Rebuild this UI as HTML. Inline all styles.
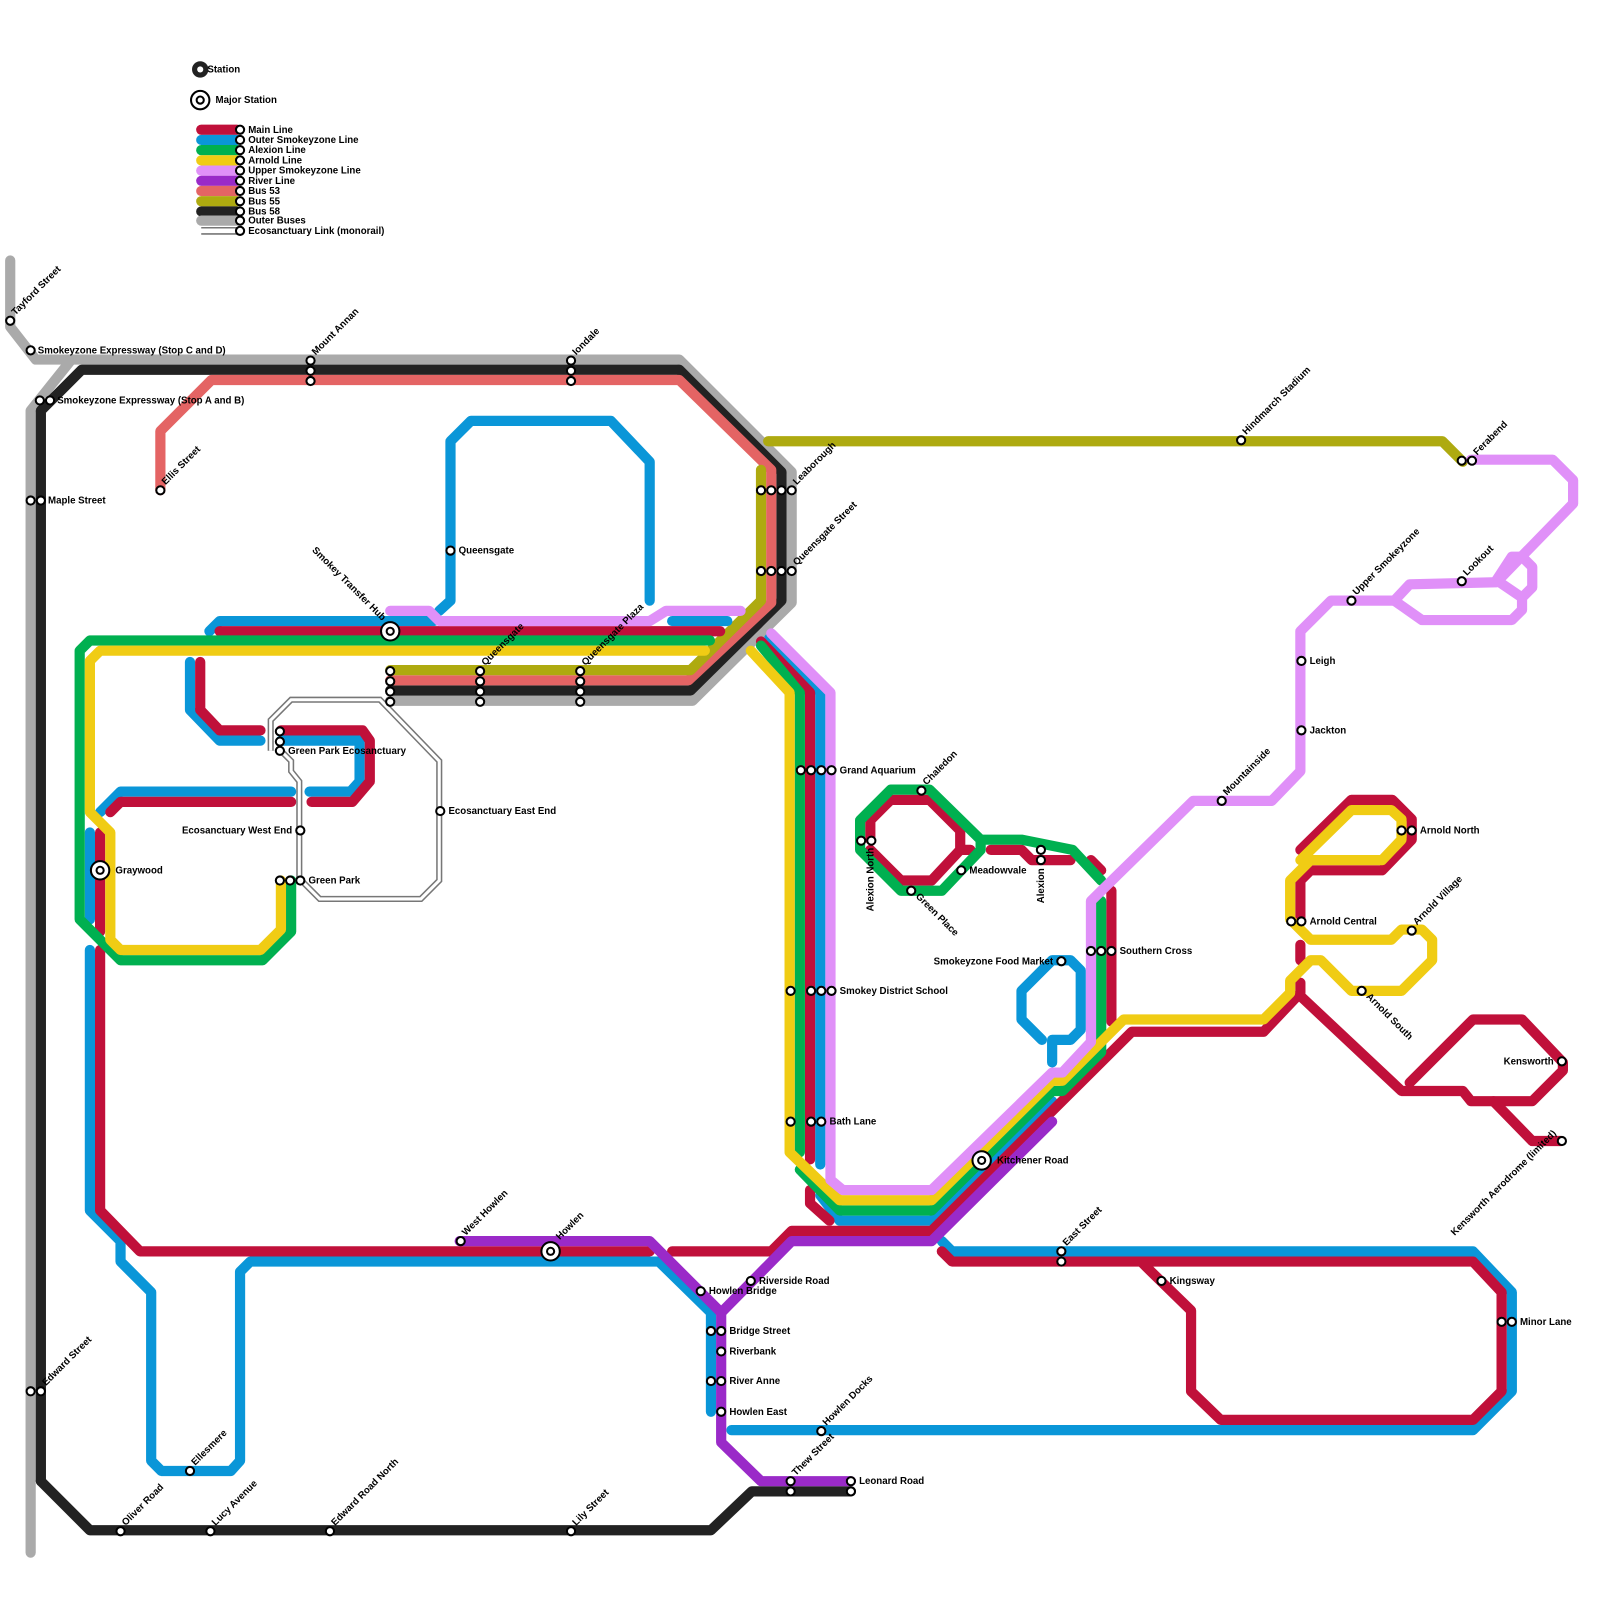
<!DOCTYPE html>
<html><head><meta charset="utf-8"><style>
html,body{margin:0;padding:0;background:#fff}
svg{display:block}
text{font-family:"Liberation Sans",sans-serif;font-size:9.5px;font-weight:bold;fill:#000}
.l{fill:none;stroke-width:10;stroke-linejoin:round;stroke-linecap:round}
.s{fill:#fff;stroke:#000;stroke-width:2}
</style></head><body>
<svg width="1600" height="1600" viewBox="0 0 1600 1600" xmlns="http://www.w3.org/2000/svg">
<g transform="scale(1.0215)">
<!-- monorail -->
<g fill="none" stroke-linejoin="miter">
<path d="M265,735 L265,705 L285,685 L372,685 L430,745 L430,862 L412,880 L313,880 L293,860 L293,765 L285,755 L285,745 L275,735" stroke="#777" stroke-width="6"/>
<path d="M265,735 L265,705 L285,685 L372,685 L430,745 L430,862 L412,880 L313,880 L293,860 L293,765 L285,755 L285,745 L275,735" stroke="#fff" stroke-width="3"/>
</g>
<!-- gray outer buses -->
<path class="l" stroke="#aaa" d="M10,255 L10,320 L35,352 L665,352 L775,462 L775,590 L678,686 L382,686"/>
<path class="l" stroke="#aaa" d="M70,352 L30,402 L30,1520"/>
<!-- black bus 58 -->
<path class="l" stroke="#222" d="M40,1450 L40,402 L80,362 L665,362 L765,462 L765,588 L676,676 L382,676"/>
<path class="l" stroke="#222" d="M40,1450 L88,1498 L696,1498 L736,1460 L833,1460"/>
<!-- salmon bus 53 -->
<path class="l" stroke="#e46464" d="M157,480 L157,422 L207,372 L665,372 L755,460 L755,590 L674,666 L382,666"/>
<!-- olive bus 55 -->
<path class="l" stroke="#aeaa10" d="M382,656 L676,656 L745,588 L745,460"/>
<path class="l" stroke="#aeaa10" d="M752,432 L1412,432 L1432,452"/>
<!-- blue -->
<g class="l" stroke="#0a96d8">
<path d="M430,598 L441,588 L441,432 L461,412 L598,412 L636,452 L636,588"/>
<path d="M205,618 L215,608 L425,608"/>
<path d="M658,608 L712,608"/>
<path d="M186,648 L186,695 L215,725 L255,725"/>
<path d="M275,725 L352,725 L352,765 L343,775 L303,775"/>
<path d="M285,775 L118,775 L98,795"/>
<path d="M88,815 L88,900"/>
<path d="M88,930 L88,1185 L118,1215 L118,1235 L148,1265 L148,1430 L158,1440 L226,1440 L235,1430 L235,1245 L245,1235 L645,1235 L696,1285 L696,1382"/>
<path d="M753,625 L803,678 L803,1140"/>
<path d="M803,1170 L822,1195 L912,1195 L1030,1078"/>
<path d="M1030,1040 L1030,1018 L1048,1018 L1058,1008 L1058,950 L1048,940 L1030,940 L1000,970 L1000,998 L1020,1018"/>
<path d="M922,1215 L932,1225 L1442,1225 L1480,1265 L1480,1362 L1442,1400 L716,1400"/>
</g>
<!-- red main -->
<g class="l" stroke="#c0103a">
<path d="M215,618 L705,618"/>
<path d="M196,648 L196,695 L215,715 L255,715"/>
<path d="M275,715 L355,715 L362,725 L362,765 L345,785 L305,785"/>
<path d="M285,785 L118,785 L108,795"/>
<path d="M98,815 L98,912"/>
<path d="M98,930 L98,1185 L137,1225 L636,1225"/>
<path d="M658,1225 L755,1225 L775,1205 L912,1205 L1100,1018 L1108,1010 L1237,1010 L1273,972 L1273,962"/>
<path d="M1273,940 L1273,925"/>
<path d="M1273,975 L1372,1068 L1432,1068 L1440,1078 L1500,1078 L1530,1048 L1530,1040 L1490,998 L1442,998 L1380,1060"/>
<path d="M1462,1078 L1500,1117 L1528,1117"/>
<path d="M745,628 L793,678 L793,1135"/>
<path d="M793,1165 L793,1178 L812,1195"/>
<path d="M1273,832 L1323,783 L1363,783 L1382,802 L1382,822 L1353,852 L1283,852 L1273,862 L1273,900"/>
<path d="M852,822 L852,803 L872,783 L910,783 L940,813 L940,832 L950,832 M940,832 L912,862 L882,862 L852,832"/>
<path d="M970,832 L1000,832 L1010,842 L1048,842"/>
<path d="M1068,842 L1078,852"/>
<path d="M1088,872 L1088,1000"/>
<path d="M922,1225 L932,1235 L1442,1235 L1470,1265 L1470,1362 L1442,1390 L1195,1390 L1166,1362 L1166,1283 L1127,1245 L1117,1235"/>
</g>
<!-- green -->
<g class="l" stroke="#00b050">
<path d="M695,627 L88,627 L78,637 L78,900 L118,940 L257,940 L285,912 L285,862"/>
<path d="M745,632 L783,678 L783,1128"/>
<path d="M783,1145 L822,1185 L912,1185 L1030,1068 L1040,1068 L1078,1030 L1078,882"/>
<path d="M1078,862 L1050,832 L1000,822 L960,822 L910,773 L872,773 L842,803 L842,832 L882,872 L922,872 L960,832 L960,822"/>
</g>
<!-- yellow -->
<g class="l" stroke="#f0cc14">
<path d="M690,637 L98,637 L88,647 L88,795 L108,815 L108,920 L118,930 L255,930 L275,910 L275,862"/>
<path d="M735,637 L773,678 L773,1128 L822,1175 L912,1175 L1030,1058 L1040,1058 L1078,1020 L1100,998 L1237,998 L1263,972 L1263,960 L1283,940 L1293,940 L1323,970 L1372,970 L1402,940 L1402,920 L1392,910 L1372,910 L1362,920 L1283,920 L1263,900 L1263,862 L1283,842 L1353,842 L1372,822 L1372,802 L1362,793 L1323,793 L1273,842"/>
</g>
<!-- light purple -->
<g class="l" stroke="#e090f8">
<path d="M382,598 L420,598 L430,608 L636,608 L652,598 L725,598"/>
<path d="M755,620 L813,678 L813,1155 L825,1165 L912,1165 L1030,1050 L1040,1050 L1068,1020 L1068,882 L1168,784 L1245,784 L1273,755 L1273,618 L1303,588 L1365,588 L1380,572 L1465,570 L1540,493 L1540,470 L1520,450 L1440,450"/>
<path d="M1365,588 L1392,607 L1480,607 L1490,597 L1490,585 L1500,575 L1500,555 L1490,545 L1480,545 L1465,568 L1490,585"/>
</g>
<!-- river purple -->
<g class="l" stroke="#9a2ac8">
<path d="M450,1215 L636,1215 L706,1285 L706,1412 L745,1450 L833,1450"/>
<path d="M706,1285 L775,1215 L912,1215 L1030,1098"/>
</g>
<!-- legend -->
<g class="l" stroke-width="8" stroke-linecap="round">
<path stroke="#c0103a" d="M197,127 L232,127"/>
<path stroke="#0a96d8" d="M197,137 L232,137"/>
<path stroke="#00b050" d="M197,147 L232,147"/>
<path stroke="#f0cc14" d="M197,157 L232,157"/>
<path stroke="#e090f8" d="M197,167 L232,167"/>
<path stroke="#9a2ac8" d="M197,177 L232,177"/>
<path stroke="#e46464" d="M197,187 L232,187"/>
<path stroke="#aeaa10" d="M197,197 L232,197"/>
<path stroke="#222" d="M197,207 L232,207"/>
<path stroke="#aaa" d="M197,216 L232,216"/>
</g>
<path d="M197,223 L232,223 M197,229 L232,229" stroke="#777" stroke-width="1.5"/>
<circle cx="196" cy="68" r="8" fill="#222"/><circle cx="196" cy="68" r="3" fill="#fff"/>
<circle cx="196" cy="98" r="9" class="s" stroke-width="3"/><circle cx="196" cy="98" r="3.5" class="s" stroke-width="2"/>
<text x="203" y="71">Station</text>
<text x="211" y="101">Major Station</text>
<g class="s">
<circle cx="235" cy="127" r="4"/><circle cx="235" cy="137" r="4"/><circle cx="235" cy="147" r="4"/><circle cx="235" cy="157" r="4"/><circle cx="235" cy="167" r="4"/><circle cx="235" cy="177" r="4"/><circle cx="235" cy="187" r="4"/><circle cx="235" cy="197" r="4"/><circle cx="235" cy="207" r="4"/><circle cx="235" cy="216" r="4"/><circle cx="235" cy="226" r="4"/>
</g>
<g>
<text x="243" y="130">Main Line</text><text x="243" y="140">Outer Smokeyzone Line</text><text x="243" y="150">Alexion Line</text><text x="243" y="160">Arnold Line</text><text x="243" y="170">Upper Smokeyzone Line</text><text x="243" y="180">River Line</text><text x="243" y="190">Bus 53</text><text x="243" y="200">Bus 55</text><text x="243" y="210">Bus 58</text><text x="243" y="219">Outer Buses</text><text x="243" y="229">Ecosanctuary Link (monorail)</text>
</g>
<!-- stations -->
<g class="s">
<circle cx="10" cy="314" r="4"/><circle cx="30" cy="343" r="4"/>
<circle cx="39" cy="392" r="4"/><circle cx="49" cy="392" r="4"/>
<circle cx="30" cy="490" r="4"/><circle cx="40" cy="490" r="4"/>
<circle cx="157" cy="480" r="4"/>
<circle cx="304" cy="353" r="4"/><circle cx="304" cy="363" r="4"/><circle cx="304" cy="373" r="4"/>
<circle cx="559" cy="353" r="4"/><circle cx="559" cy="363" r="4"/><circle cx="559" cy="373" r="4"/>
<circle cx="441" cy="539" r="4"/>
<circle cx="745" cy="480" r="4"/><circle cx="755" cy="480" r="4"/><circle cx="765" cy="480" r="4"/><circle cx="775" cy="480" r="4"/>
<circle cx="745" cy="559" r="4"/><circle cx="755" cy="559" r="4"/><circle cx="765" cy="559" r="4"/><circle cx="775" cy="559" r="4"/>
<circle cx="382" cy="657" r="4"/><circle cx="382" cy="667" r="4"/><circle cx="382" cy="677" r="4"/><circle cx="382" cy="687" r="4"/>
<circle cx="470" cy="657" r="4"/><circle cx="470" cy="667" r="4"/><circle cx="470" cy="677" r="4"/><circle cx="470" cy="687" r="4"/>
<circle cx="568" cy="657" r="4"/><circle cx="568" cy="667" r="4"/><circle cx="568" cy="677" r="4"/><circle cx="568" cy="687" r="4"/>
<circle cx="274" cy="716" r="4"/><circle cx="274" cy="726" r="4"/><circle cx="274" cy="735" r="4"/>
<circle cx="294" cy="813" r="4"/><circle cx="431" cy="794" r="4"/>
<circle cx="274" cy="862" r="4"/><circle cx="284" cy="862" r="4"/><circle cx="294" cy="862" r="4"/>
<circle cx="784" cy="754" r="4"/><circle cx="794" cy="754" r="4"/><circle cx="804" cy="754" r="4"/><circle cx="814" cy="754" r="4"/>
<circle cx="774" cy="970" r="4"/><circle cx="794" cy="970" r="4"/><circle cx="804" cy="970" r="4"/><circle cx="814" cy="970" r="4"/>
<circle cx="774" cy="1098" r="4"/><circle cx="794" cy="1098" r="4"/><circle cx="804" cy="1098" r="4"/>
<circle cx="902" cy="774" r="4"/><circle cx="843" cy="823" r="4"/><circle cx="853" cy="823" r="4"/>
<circle cx="892" cy="872" r="4"/><circle cx="941" cy="852" r="4"/>
<circle cx="1019" cy="832" r="4"/><circle cx="1019" cy="842" r="4"/>
<circle cx="1039" cy="941" r="4"/>
<circle cx="1068" cy="931" r="4"/><circle cx="1078" cy="931" r="4"/><circle cx="1088" cy="931" r="4"/>
<circle cx="1039" cy="1225" r="4"/><circle cx="1039" cy="1235" r="4"/>
<circle cx="1137" cy="1254" r="4"/>
<circle cx="1470" cy="1294" r="4"/><circle cx="1480" cy="1294" r="4"/>
<circle cx="1215" cy="431" r="4"/><circle cx="1431" cy="451" r="4"/><circle cx="1441" cy="451" r="4"/>
<circle cx="1323" cy="588" r="4"/><circle cx="1431" cy="569" r="4"/>
<circle cx="1274" cy="647" r="4"/><circle cx="1274" cy="715" r="4"/><circle cx="1196" cy="784" r="4"/>
<circle cx="1372" cy="813" r="4"/><circle cx="1382" cy="813" r="4"/>
<circle cx="1264" cy="902" r="4"/><circle cx="1274" cy="902" r="4"/>
<circle cx="1382" cy="911" r="4"/><circle cx="1333" cy="970" r="4"/>
<circle cx="1529" cy="1039" r="4"/><circle cx="1529" cy="1117" r="4"/>
<circle cx="451" cy="1215" r="4"/>
<circle cx="686" cy="1264" r="4"/><circle cx="735" cy="1254" r="4"/>
<circle cx="696" cy="1303" r="4"/><circle cx="706" cy="1303" r="4"/>
<circle cx="706" cy="1323" r="4"/>
<circle cx="696" cy="1352" r="4"/><circle cx="706" cy="1352" r="4"/>
<circle cx="706" cy="1382" r="4"/>
<circle cx="804" cy="1401" r="4"/>
<circle cx="774" cy="1450" r="4"/><circle cx="774" cy="1460" r="4"/>
<circle cx="833" cy="1450" r="4"/><circle cx="833" cy="1460" r="4"/>
<circle cx="30" cy="1362" r="4"/><circle cx="40" cy="1362" r="4"/>
<circle cx="186" cy="1440" r="4"/>
<circle cx="118" cy="1499" r="4"/><circle cx="206" cy="1499" r="4"/><circle cx="323" cy="1499" r="4"/><circle cx="559" cy="1499" r="4"/>
</g>
<!-- major stations -->
<g>
<circle cx="382" cy="618" r="9" class="s" stroke-width="3"/><circle cx="382" cy="618" r="3.5" class="s"/>
<circle cx="98" cy="852" r="9" class="s" stroke-width="3"/><circle cx="98" cy="852" r="3.5" class="s"/>
<circle cx="539" cy="1225" r="9" class="s" stroke-width="3"/><circle cx="539" cy="1225" r="3.5" class="s"/>
<circle cx="961" cy="1136" r="9" class="s" stroke-width="3"/><circle cx="961" cy="1136" r="3.5" class="s"/>
</g>
<!-- labels -->
<text x="37" y="346">Smokeyzone Expressway (Stop C and D)</text>
<text x="56" y="395">Smokeyzone Expressway (Stop A and B)</text>
<text x="47" y="493">Maple Street</text>
<text x="449" y="542">Queensgate</text>
<text x="282" y="738">Green Park Ecosanctuary</text>
<text x="286" y="816" text-anchor="end">Ecosanctuary West End</text>
<text x="439" y="797">Ecosanctuary East End</text>
<text x="302" y="865">Green Park</text>
<text x="113" y="855">Graywood</text>
<text x="822" y="757">Grand Aquarium</text>
<text x="822" y="973">Smokey District School</text>
<text x="812" y="1101">Bath Lane</text>
<text x="949" y="855">Meadowvale</text>
<text x="1031" y="944" text-anchor="end">Smokeyzone Food Market</text>
<text x="1096" y="934">Southern Cross</text>
<text x="976" y="1139">Kitchener Road</text>
<text x="1145" y="1257">Kingsway</text>
<text x="1488" y="1297">Minor Lane</text>
<text x="1282" y="650">Leigh</text>
<text x="1282" y="718">Jackton</text>
<text x="1390" y="816">Arnold North</text>
<text x="1282" y="905">Arnold Central</text>
<text x="1521" y="1042" text-anchor="end">Kensworth</text>
<text x="694" y="1267">Howlen Bridge</text>
<text x="743" y="1257">Riverside Road</text>
<text x="714" y="1306">Bridge Street</text>
<text x="714" y="1326">Riverbank</text>
<text x="714" y="1355">River Anne</text>
<text x="714" y="1385">Howlen East</text>
<text x="841" y="1453">Leonard Road</text>
<!-- rotated -->
<g>
<text transform="translate(15,309) rotate(-45)">Tayford Street</text>
<text transform="translate(309,348) rotate(-45)">Mount Annan</text>
<text transform="translate(564,348) rotate(-45)">Iondale</text>
<text transform="translate(162,475) rotate(-45)">Ellis Street</text>
<text transform="translate(780,475) rotate(-45)">Leaborough</text>
<text transform="translate(780,554) rotate(-45)">Queensgate Street</text>
<text transform="translate(475,652) rotate(-45)">Queensgate</text>
<text transform="translate(573,652) rotate(-45)">Queensgate Plaza</text>
<text transform="translate(374,608) rotate(45)" text-anchor="end">Smokey Transfer Hub</text>
<text transform="translate(907,769) rotate(-45)">Chaledon</text>
<text transform="translate(855,830) rotate(-90)" text-anchor="end">Alexion North</text>
<text transform="translate(896,878) rotate(45)">Green Place</text>
<text transform="translate(1022,850) rotate(-90)" text-anchor="end">Alexion</text>
<text transform="translate(1044,1220) rotate(-45)">East Street</text>
<text transform="translate(1220,426) rotate(-45)">Hindmarch Stadium</text>
<text transform="translate(1446,446) rotate(-45)">Ferabend</text>
<text transform="translate(1328,583) rotate(-45)">Upper Smokeyzone</text>
<text transform="translate(1436,564) rotate(-45)">Lookout</text>
<text transform="translate(1201,779) rotate(-45)">Mountainside</text>
<text transform="translate(1387,906) rotate(-45)">Arnold Village</text>
<text transform="translate(1337,976) rotate(45)">Arnold South</text>
<text transform="translate(1524,1110) rotate(-45)" text-anchor="end">Kensworth Aerodrome (limited)</text>
<text transform="translate(456,1210) rotate(-45)">West Howlen</text>
<text transform="translate(548,1214) rotate(-45)">Howlen</text>
<text transform="translate(809,1396) rotate(-45)">Howlen Docks</text>
<text transform="translate(779,1445) rotate(-45)">Thew Street</text>
<text transform="translate(45,1357) rotate(-45)">Edward Street</text>
<text transform="translate(191,1435) rotate(-45)">Ellesmere</text>
<text transform="translate(123,1494) rotate(-45)">Oliver Road</text>
<text transform="translate(211,1494) rotate(-45)">Lucy Avenue</text>
<text transform="translate(328,1494) rotate(-45)">Edward Road North</text>
<text transform="translate(564,1494) rotate(-45)">Lily Street</text>
</g>
</g>
</svg>
</body></html>
